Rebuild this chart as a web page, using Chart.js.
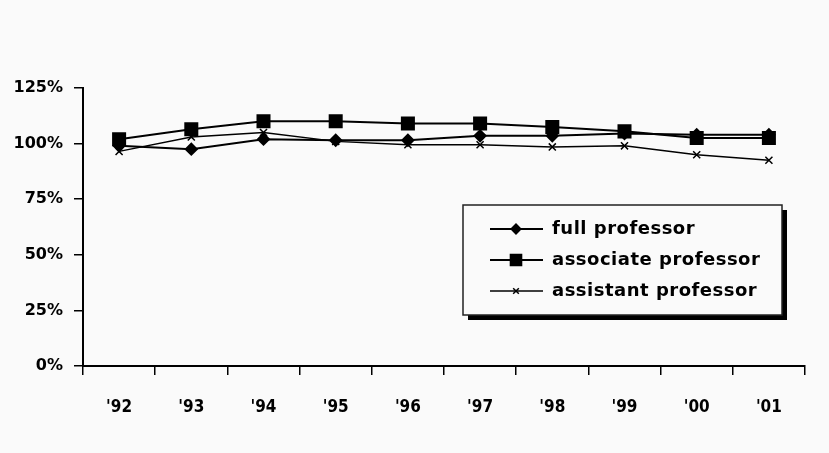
<!DOCTYPE html>
<html>
<head>
<meta charset="utf-8">
<script src="https://cdn.jsdelivr.net/npm/chart.js@4"></script>
<style>
  html, body { margin: 0; padding: 0; background: #fafafa; }
  #wrap { width: 829px; height: 453px; }
</style>
</head>
<body>
<div id="wrap"><canvas id="c" width="829" height="453"></canvas></div>
<script>
// Salary index by rank, 1992–2001
const years = ["'92", "'93", "'94", "'95", "'96", "'97", "'98", "'99", "'00", "'01"];
const fullProfessor = [99, 97.5, 102, 101.5, 101.5, 103.5, 103.5, 104.5, 104, 104];
const associateProfessor = [102, 106.5, 110, 110, 109, 109, 107.5, 105.5, 102.5, 102.5];
const assistantProfessor = [96.5, 103, 105, 101, 99.5, 99.5, 98.5, 99, 95, 92.5];
const seriesNames = ['full professor', 'associate professor', 'assistant professor'];
const yTicks = [0, 25, 50, 75, 100, 125];

const FONT = '"DejaVu Sans", sans-serif';
const FONT_NARROW = '"DejaVu Sans Condensed", "DejaVu Sans", sans-serif';

// Boxed legend with a drop shadow, drawn inside the plot area
const legendBox = {
  id: 'legendBox',
  afterDraw(chart) {
    const ctx = chart.ctx;
    const x = 463, y = 205, w = 319, h = 110;
    ctx.save();
    ctx.fillStyle = '#000';
    ctx.fillRect(x + 5, y + 5, w, h);
    ctx.fillStyle = '#fafafa';
    ctx.fillRect(x, y, w, h);
    ctx.strokeStyle = '#222';
    ctx.lineWidth = 1.5;
    ctx.strokeRect(x, y, w, h);
    ctx.font = 'bold 18px ' + FONT;
    ctx.letterSpacing = '0.5px';
    ctx.textBaseline = 'middle';
    chart.data.datasets.forEach((ds, i) => {
      const ry = y + 24 + i * 31;
      ctx.strokeStyle = '#000';
      ctx.lineWidth = ds.borderWidth;
      ctx.beginPath();
      ctx.moveTo(x + 27, ry);
      ctx.lineTo(x + 80, ry);
      ctx.stroke();
      ctx.fillStyle = '#000';
      Chart.helpers.drawPoint(ctx, {
        pointStyle: ds.pointStyle,
        radius: ds.legendRadius,
        rotation: 0,
        borderWidth: 1.5
      }, x + 53, ry);
      ctx.fillStyle = '#000';
      ctx.fillText(ds.label, x + 89, ry);
    });
    ctx.restore();
  }
};

new Chart(document.getElementById('c'), {
  type: 'line',
  data: {
    labels: years,
    datasets: [
      {
        label: seriesNames[0], data: fullProfessor,
        borderColor: '#000', backgroundColor: '#000', borderWidth: 2,
        pointStyle: 'rectRot', pointRadius: 5.5, legendRadius: 4.5
      },
      {
        label: seriesNames[1], data: associateProfessor,
        borderColor: '#000', backgroundColor: '#000', borderWidth: 2,
        pointStyle: 'rect', pointRadius: 8.5, legendRadius: 7.5
      },
      {
        label: seriesNames[2], data: assistantProfessor,
        borderColor: '#000', backgroundColor: '#000', borderWidth: 1.5,
        pointStyle: 'crossRot', pointRadius: 5, pointBorderWidth: 1.5, legendRadius: 4
      }
    ]
  },
  options: {
    responsive: false,
    animation: false,
    events: [],
    layout: { padding: { top: 88, right: 24, left: 0, bottom: 0 } },
    plugins: { legend: { display: false }, tooltip: { enabled: false } },
    elements: { line: { tension: 0 } },
    scales: {
      x: {
        offset: true,
        grid: { offset: true, drawOnChartArea: false, color: '#000', lineWidth: 1.5, tickLength: 9 },
        border: { color: '#000', width: 2 },
        ticks: { color: '#000', font: { family: FONT_NARROW, weight: 'bold', size: 17 }, padding: 22, maxRotation: 0 },
        afterFit(s) { s.height = 87; }
      },
      y: {
        min: 0, max: 125,
        afterBuildTicks(s) { s.ticks = yTicks.map(v => ({ value: v })); },
        grid: { drawOnChartArea: false, color: '#000', lineWidth: 1.5, tickLength: 9 },
        border: { color: '#000', width: 2 },
        ticks: { color: '#000', font: { family: FONT, weight: 'bold', size: 16 }, padding: 11,
                 callback: v => v + '%' },
        afterFit(s) { s.width = 83; }
      }
    }
  },
  plugins: [legendBox]
});
</script>
</body>
</html>
